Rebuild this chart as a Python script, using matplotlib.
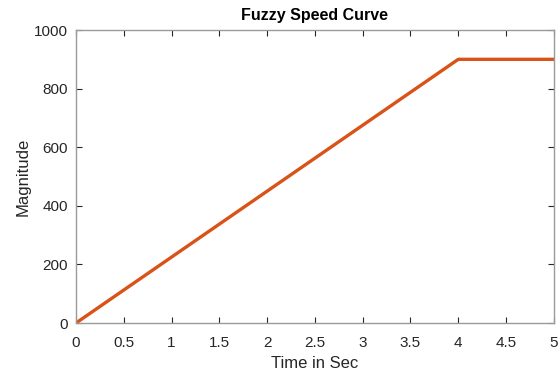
import numpy as np
import matplotlib.pyplot as plt

plt.rcParams['font.family'] = ['Liberation Sans', 'DejaVu Sans']

# Speed curve: ramp up then hold
t = [0, 4, 5]
mag = [0, 900, 900]

fig = plt.figure(figsize=(5.6, 3.78), dpi=100)
ax = fig.add_axes([0.1357, 0.1455, 0.8533, 0.7751])
ax.plot(t, mag, color='#D95319', linewidth=2.4)

ax.set_xlim(0, 5)
ax.set_ylim(0, 1000)
ax.set_xticks(np.arange(0, 5.01, 0.5))
ax.set_xticklabels(['0', '0.5', '1', '1.5', '2', '2.5', '3', '3.5', '4', '4.5', '5'])
ax.set_yticks(np.arange(0, 1001, 200))

for s in ax.spines.values():
    s.set_color('#9a9a9a')
    s.set_linewidth(1.0)
ax.tick_params(direction='in', top=True, right=True, length=4, width=0.8,
               color='#262626', labelcolor='#262626', labelsize=11, pad=6)
ax.tick_params(axis='x', pad=9)

ax.set_xlabel('Time in Sec', fontsize=12, color='#262626', labelpad=5)
ax.set_ylabel('Magnitude', fontsize=12, color='#262626', labelpad=2)
ax.set_title('Fuzzy Speed Curve', fontsize=11.5, fontweight='bold', pad=7)

fig.savefig('out.png', dpi=100)
